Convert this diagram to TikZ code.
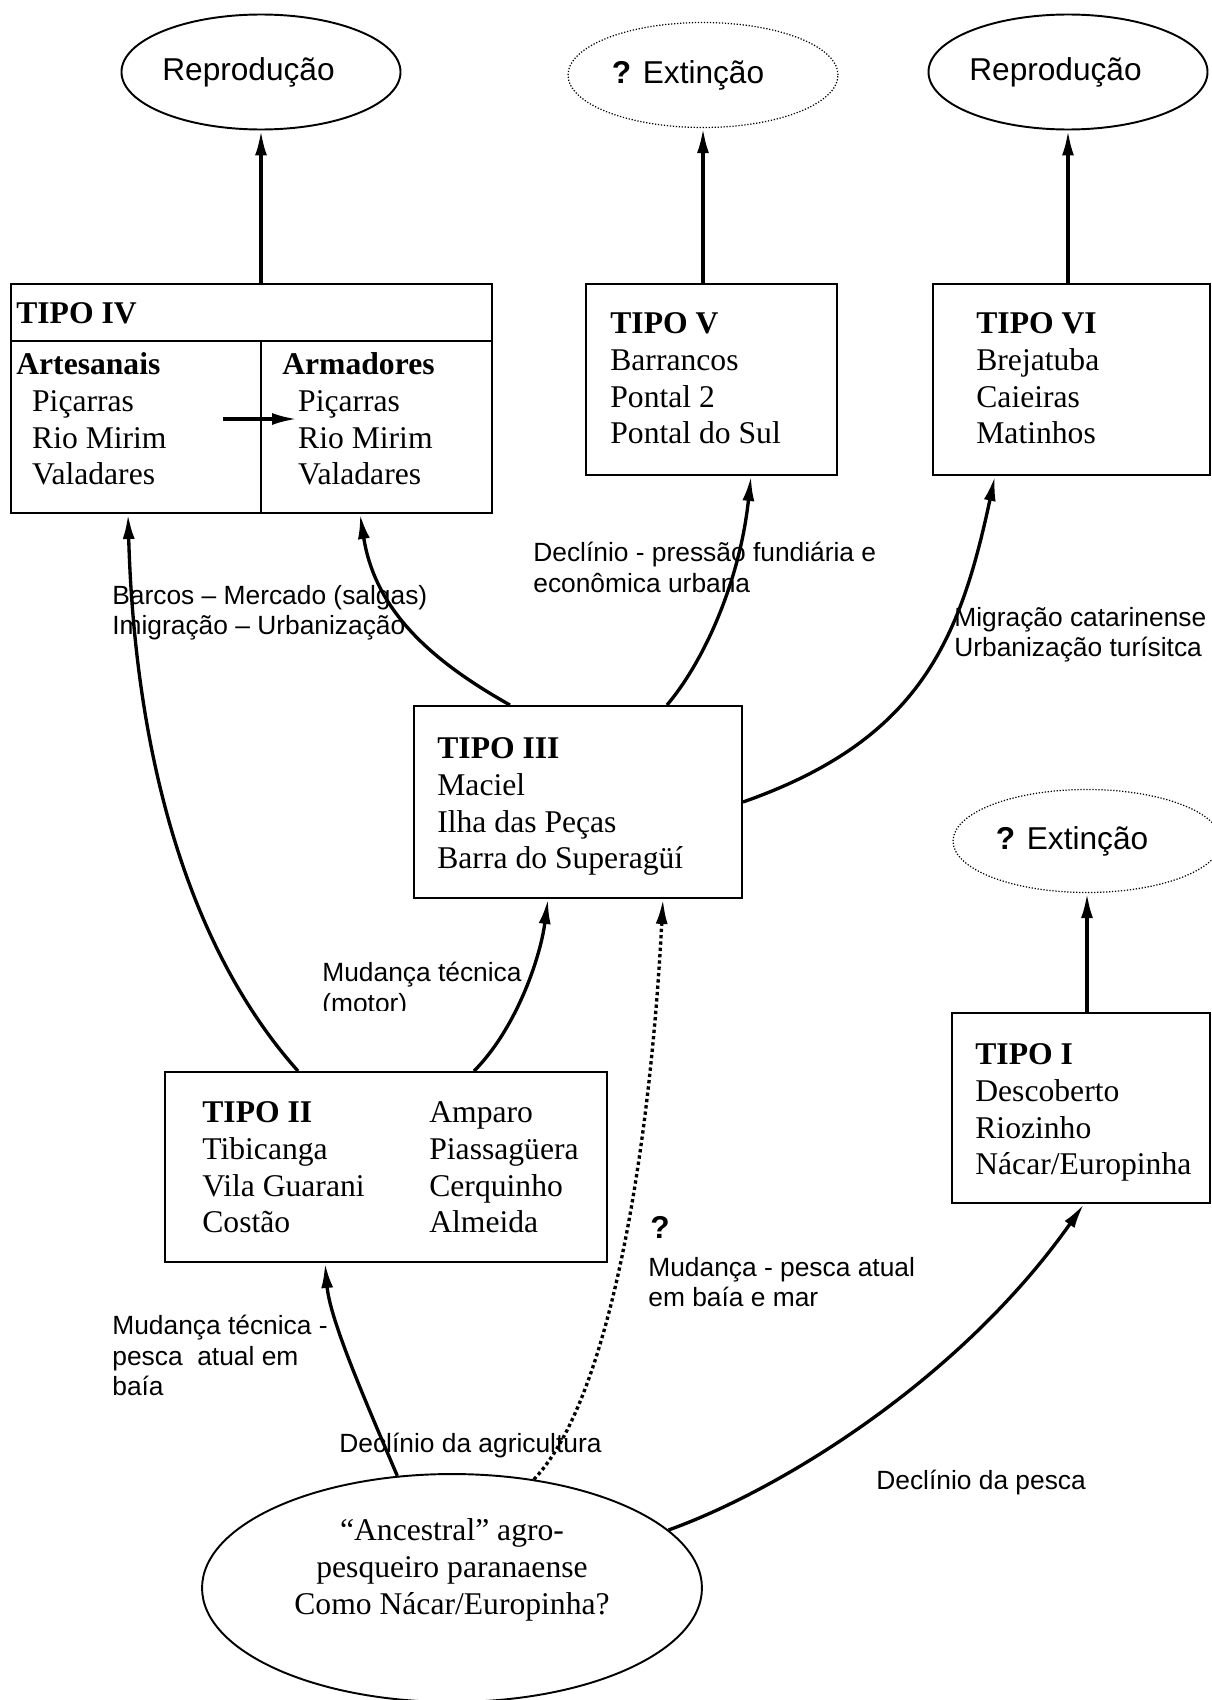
\documentclass[tikz,border=0pt]{standalone}
\usepackage{fontspec}
\setmainfont{Liberation Serif}
\setsansfont{Liberation Sans}
\usetikzlibrary{arrows.meta,shapes.geometric,fit}

\begin{document}
\begin{tikzpicture}[x=0.02cm,y=-0.02cm,>={Latex[length=5mm,width=2.4mm]},
  caixa/.style={draw,line width=1.1pt,inner sep=0pt},
  elipse/.style={draw,ellipse,line width=1.1pt,inner sep=0pt,font=\sffamily\fontsize{18}{21}\selectfont},
  incerta/.style={elipse,line width=0.7pt,dash pattern=on 0.7pt off 1pt},
  texto/.style={inner sep=0pt,anchor=north west,align=left,font=\fontsize{18}{21}\selectfont},
  rotulo/.style={inner sep=0pt,anchor=north west,align=left,font=\sffamily\fontsize{15}{17.3}\selectfont},
  seta/.style={->,line width=1.9pt},
  pontos/.style={seta,dash pattern=on 1.9pt off 1.7pt}]
  \clip (0,0) rectangle (1212,1700);
  % destinos no topo
  \node[elipse,minimum width=5.4cm,minimum height=2.3cm] (e1) at (261,72) {Reprodução\hspace*{0.5cm}};
  \node[incerta,minimum width=5.4cm,minimum height=2.1cm] (e2) at (703,75) {\textbf{?} Extinção\hspace*{0.6cm}};
  \node[elipse,minimum width=5.4cm,minimum height=2.3cm] (e3) at (1068,72) {Reprodução\hspace*{0.5cm}};
  \node[incerta,minimum width=5.36cm,minimum height=2.06cm] (e4) at (1087,841) {\textbf{?} Extinção\hspace*{0.6cm}};
  % caixas dos tipos
  \node[caixa,fit={(11,284) (492,513)}] (t4) {};
  \draw[line width=1.1pt] (t4.west |- 0,341) -- (t4.east |- 0,341);
  \draw[line width=1.1pt] (261,341) -- (261,0 |- t4.south);
  \node[texto,anchor=base west] (n4) at (16,323) {\textbf{TIPO IV}};
  \node[texto] (art) at (16,352) {\textbf{Artesanais}\\\hspace*{9pt}Piçarras\\\hspace*{9pt}Rio Mirim\\\hspace*{9pt}Valadares};
  \node[texto] (arm) at (282,352) {\textbf{Armadores}\\\hspace*{9pt}Piçarras\\\hspace*{9pt}Rio Mirim\\\hspace*{9pt}Valadares};
  \coordinate (ia) at (223,419);
  \coordinate (ib) at (297,419);
  \draw[seta] (ia) -- (ib);
  \node[caixa,fit={(586,284) (837,475)}] (t5) {};
  \node[texto] (n5) at (610,312) {\textbf{TIPO V}\\Barrancos\\Pontal 2\\Pontal do Sul};
  \node[caixa,fit={(933,284) (1210,475)}] (t6) {};
  \node[texto] (n6) at (976,312) {\textbf{TIPO VI}\\Brejatuba\\Caieiras\\Matinhos};
  \node[caixa,fit={(414,706) (742,898)}] (t3) {};
  \node[texto] (n3) at (437,737) {\textbf{TIPO III}\\Maciel\\Ilha das Peças\\Barra do Superagüí};
  \node[caixa,fit={(165,1072) (607,1262)}] (t2) {};
  \node[texto] (n2a) at (202,1101) {\textbf{TIPO II}\\Tibicanga\\Vila Guarani\\Costão};
  \node[texto] (n2b) at (429,1101) {Amparo\\Piassagüera\\Cerquinho\\Almeida};
  \node[caixa,fit={(952,1013) (1210,1203)}] (t1) {};
  \node[texto] (n1) at (975,1043) {\textbf{TIPO I}\\Descoberto\\Riozinho\\Nácar/Europinha};
  % ancestral
  \node[draw,ellipse,line width=1.1pt,inner sep=0pt,minimum width=10cm,minimum height=4.56cm] (e0) at (452,1588) {};
  \node[align=center,inner sep=0pt,font=\fontsize{18}{21}\selectfont] (a0) at (452,1570)
    {“Ancestral” agro-\\pesqueiro paranaense\\Como Nácar/Europinha?};
  % setas retas para os destinos
  \draw[seta] (e1.south |- t4.north) -- (e1.south);
  \draw[seta] (e2.south |- t5.north) -- (e2.south);
  \draw[seta] (e3.south |- t6.north) -- (e3.south);
  \draw[seta] (e4.south |- t1.north) -- (e4.south);
  % trajetorias
  \draw[seta] (298,0 |- t2.north) .. controls (190,950) and (135,760) .. (128,0 |- t4.south);
  \draw[seta] (510,0 |- t3.north) .. controls (430,660) and (375,610) .. (360,0 |- t4.south);
  \draw[seta] (667,0 |- t3.north) .. controls (705,660) and (740,580) .. (751,0 |- t5.south);
  \draw[seta] (t3.east |- 0,802) .. controls (920,740) and (960,640) .. (995,0 |- t6.south);
  \draw[seta] (474,0 |- t2.north) .. controls (515,1030) and (540,960) .. (548,0 |- t3.south);
  \draw[pontos] (e0.53) .. controls (610,1400) and (650,1150) .. (663,0 |- t3.south);
  \draw[seta] (e0.116) .. controls (365,1400) and (330,1320) .. (325,0 |- t2.south);
  \draw[seta] (e0.15) .. controls (780,1490) and (960,1380) .. (1084,0 |- t1.south);
  % rotulos
  \node[rotulo] (r1) at (112,585) {Barcos – Mercado (salgas)\\Imigração – Urbanização};
  \node[rotulo] (r2) at (533,542) {Declínio - pressão fundiária e\\econômica urbana};
  \node[rotulo] (r3) at (954,607) {Migração catarinense\\Urbanização turísitca};
  \begin{scope}
    \clip (300,940) rectangle (540,1010);
    \node[rotulo] (r4) at (322,962) {Mudança técnica\\(motor)};
  \end{scope}
  \node[inner sep=0pt,anchor=west,font=\sffamily\bfseries\fontsize{18}{21}\selectfont] (r5) at (650,1227) {?};
  \node[rotulo] (r6) at (648,1257) {Mudança - pesca atual\\em baía e mar};
  \node[rotulo] (r7) at (112,1315) {Mudança técnica -\\pesca\ \ atual em\\baía};
  \node[rotulo] (r8) at (339,1433) {Declínio da agricultura};
  \node[rotulo] (r9) at (876,1470) {Declínio da pesca};
\end{tikzpicture}
\end{document}
